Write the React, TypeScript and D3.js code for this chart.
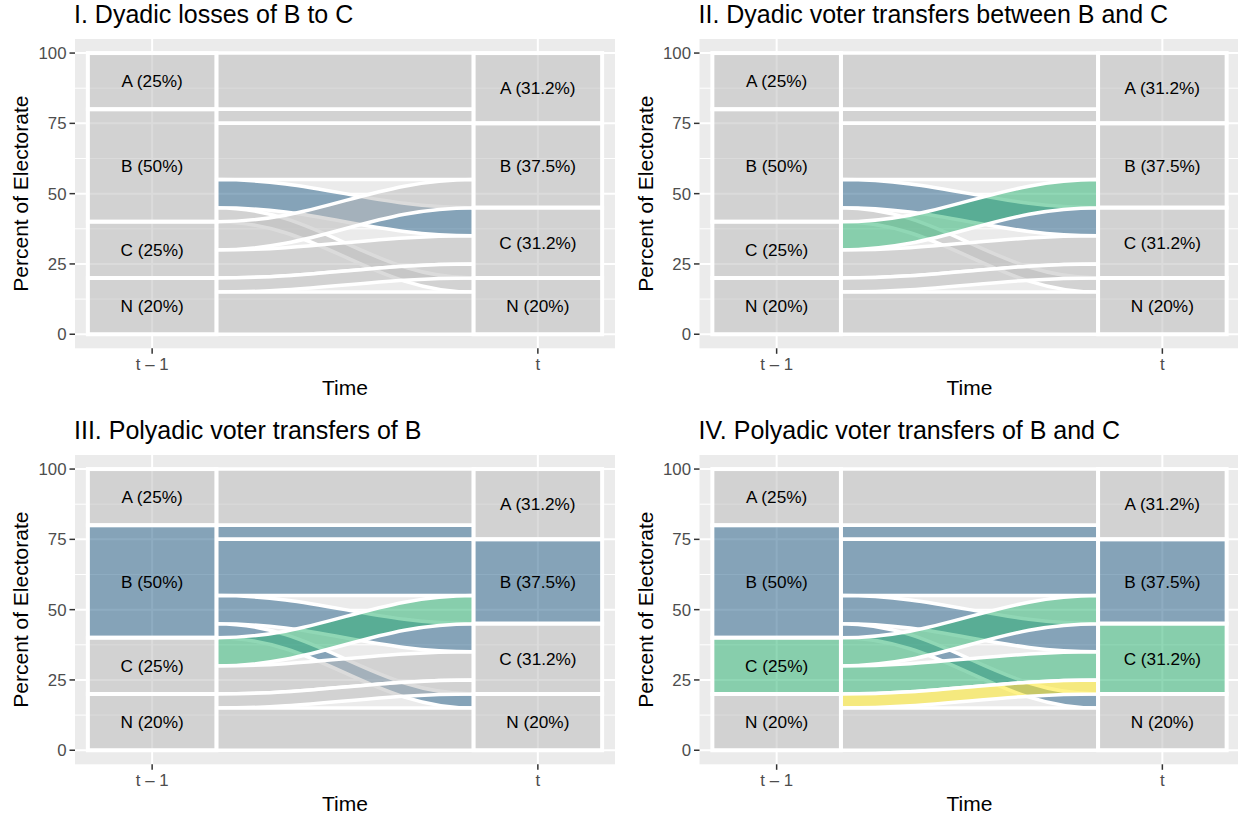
import React from "react";
import * as d3 from "d3";

// Party categories, stacked top to bottom
const CATEGORIES = ["A", "B", "C", "N"];
// Percent of electorate at t - 1 and at t
const SHARE_BEFORE = [20, 40, 20, 20];
const SHARE_AFTER = [25, 30, 25, 20];
// Stratum labels (vote share among voters; N as share of electorate)
const LABELS_BEFORE = ["A (25%)", "B (50%)", "C (25%)", "N (20%)"];
const LABELS_AFTER = ["A (31.2%)", "B (37.5%)", "C (31.2%)", "N (20%)"];
// Voter transfers between the two elections
const FLOW_FROM = ["A", "B", "B", "B", "B", "C", "C", "N", "N"];
const FLOW_TO = ["A", "A", "B", "C", "N", "B", "C", "C", "N"];
const FLOW_VALUE = [20, 5, 20, 10, 5, 10, 10, 5, 15];

const TIME_TICKS = ["t \u2013 1", "t"];
const Y_TICKS = [0, 25, 50, 75, 100];
const Y_MINOR = [12.5, 37.5, 62.5, 87.5];

const PANEL_TITLES = [
  "I. Dyadic losses of B to C",
  "II. Dyadic voter transfers between B and C",
  "III. Polyadic voter transfers of B",
  "IV. Polyadic voter transfers of B and C",
];
// Highlighted flows per panel ("from>to" -> colour key)
const PANEL_FLOW_HIGHLIGHT: Record<string, string>[] = [
  { "B>C": "B" },
  { "B>C": "B", "C>B": "C" },
  { "B>A": "B", "B>B": "B", "B>C": "B", "B>N": "B", "C>B": "C" },
  { "B>A": "B", "B>B": "B", "B>C": "B", "B>N": "B", "C>B": "C", "C>C": "C", "N>C": "N" },
];
const PANEL_STRATUM_HIGHLIGHT = [[], [], ["B"], ["B", "C"]];

const PALETTE: Record<string, string> = {
  B: "#31688E",
  C: "#35B779",
  N: "#FDE725",
  none: "#BEBEBE",
};
const FILL_ALPHA = 0.55;

const FONT = "'Liberation Sans', Arial, Helvetica, sans-serif";

// Geometry of one panel in its own cell
const PANEL_LEFT = 75;
const PANEL_RIGHT = 615;
const PANEL_TOP = 39;
const PANEL_BOTTOM = 348.3;
const COL_OFFSETS = [0, 624.5];
const ROW_OFFSETS = [0, 416];
const STRATUM_WIDTH = 1 / 3;
// Horizontal position of the ribbon control points (fraction of span)
const CURVE_KNOT = 0.4;

type Lode = { top: number; bottom: number };

function computeLayout() {
  const idx = (c: string) => CATEGORIES.indexOf(c);
  const flows = FLOW_VALUE.map((v, i) => ({
    from: FLOW_FROM[i],
    to: FLOW_TO[i],
    value: v,
    left: { top: 0, bottom: 0 } as Lode,
    right: { top: 0, bottom: 0 } as Lode,
  }));
  const strataBefore: Lode[] = [];
  const strataAfter: Lode[] = [];
  let cursor = d3.sum(SHARE_BEFORE);
  CATEGORIES.forEach((c, i) => {
    strataBefore.push({ top: cursor, bottom: cursor - SHARE_BEFORE[i] });
    let inner = cursor;
    flows
      .filter((f) => f.from === c)
      .sort((a, b) => idx(a.to) - idx(b.to))
      .forEach((f) => {
        f.left = { top: inner, bottom: inner - f.value };
        inner -= f.value;
      });
    cursor -= SHARE_BEFORE[i];
  });
  cursor = d3.sum(SHARE_AFTER);
  CATEGORIES.forEach((c, i) => {
    strataAfter.push({ top: cursor, bottom: cursor - SHARE_AFTER[i] });
    let inner = cursor;
    flows
      .filter((f) => f.to === c)
      .sort((a, b) => idx(a.from) - idx(b.from))
      .forEach((f) => {
        f.right = { top: inner, bottom: inner - f.value };
        inner -= f.value;
      });
    cursor -= SHARE_AFTER[i];
  });
  return { flows, strataBefore, strataAfter };
}

const LAYOUT = computeLayout();

function ribbon(x0: number, x1: number, t0: number, b0: number, t1: number, b1: number) {
  const w = x1 - x0;
  const xa = x0 + CURVE_KNOT * w;
  const xb = x1 - CURVE_KNOT * w;
  const p = d3.path();
  p.moveTo(x0, t0);
  p.bezierCurveTo(xa, t0, xb, t1, x1, t1);
  p.lineTo(x1, b1);
  p.bezierCurveTo(xb, b1, xa, b0, x0, b0);
  p.closePath();
  return p.toString();
}

function Panel({ index }: { index: number }) {
  const dx = COL_OFFSETS[index % 2];
  const dy = ROW_OFFSETS[Math.floor(index / 2)];
  const x = d3.scaleLinear().domain([0.8, 2.2]).range([PANEL_LEFT, PANEL_RIGHT]);
  const y = d3.scaleLinear().domain([-5, 105]).range([PANEL_BOTTOM, PANEL_TOP]);
  const highlight = PANEL_FLOW_HIGHLIGHT[index];
  const strataHi = PANEL_STRATUM_HIGHLIGHT[index];
  const half = STRATUM_WIDTH / 2;
  const xFlow0 = x(1 + half);
  const xFlow1 = x(2 - half);
  const midY = (PANEL_TOP + PANEL_BOTTOM) / 2;
  const midX = (PANEL_LEFT + PANEL_RIGHT) / 2;

  return (
    <g transform={`translate(${dx},${dy})`}>
      <text x={PANEL_LEFT - 1} y={23} fontSize={25} fontFamily={FONT} fill="#000">
        {PANEL_TITLES[index]}
      </text>
      <rect
        x={PANEL_LEFT}
        y={PANEL_TOP}
        width={PANEL_RIGHT - PANEL_LEFT}
        height={PANEL_BOTTOM - PANEL_TOP}
        fill="#EBEBEB"
      />
      {Y_MINOR.map((v) => (
        <line key={"m" + v} x1={PANEL_LEFT} x2={PANEL_RIGHT} y1={y(v)} y2={y(v)} stroke="#fff" strokeWidth={1} />
      ))}
      {Y_TICKS.map((v) => (
        <line key={"g" + v} x1={PANEL_LEFT} x2={PANEL_RIGHT} y1={y(v)} y2={y(v)} stroke="#fff" strokeWidth={2} />
      ))}
      {[1, 2].map((v) => (
        <line key={"gx" + v} x1={x(v)} x2={x(v)} y1={PANEL_TOP} y2={PANEL_BOTTOM} stroke="#fff" strokeWidth={2} />
      ))}
      {LAYOUT.flows.map((f, i) => {
        const key = highlight[`${f.from}>${f.to}`] || "none";
        return (
          <path
            key={"f" + i}
            d={ribbon(xFlow0, xFlow1, y(f.left.top), y(f.left.bottom), y(f.right.top), y(f.right.bottom))}
            fill={PALETTE[key]}
            fillOpacity={FILL_ALPHA}
            stroke="#fff"
            strokeWidth={3.5}
          />
        );
      })}
      {[LAYOUT.strataBefore, LAYOUT.strataAfter].map((strata, t) =>
        strata.map((s, i) => {
          const cat = CATEGORIES[i];
          const key = strataHi.includes(cat) ? cat : "none";
          return (
            <rect
              key={`s${t}-${i}`}
              x={x(t + 1 - half)}
              y={y(s.top)}
              width={x(t + 1 + half) - x(t + 1 - half)}
              height={y(s.bottom) - y(s.top)}
              fill={PALETTE[key]}
              fillOpacity={FILL_ALPHA}
              stroke="#fff"
              strokeWidth={4}
            />
          );
        })
      )}
      {[LAYOUT.strataBefore, LAYOUT.strataAfter].map((strata, t) =>
        strata.map((s, i) => (
          <text
            key={`l${t}-${i}`}
            x={x(t + 1)}
            y={y((s.top + s.bottom) / 2)}
            dy="0.36em"
            textAnchor="middle"
            fontSize={17.2}
            fontFamily={FONT}
            fill="#000"
          >
            {t === 0 ? LABELS_BEFORE[i] : LABELS_AFTER[i]}
          </text>
        ))
      )}
      {Y_TICKS.map((v) => (
        <g key={"yt" + v}>
          <line x1={PANEL_LEFT - 5.5} x2={PANEL_LEFT} y1={y(v)} y2={y(v)} stroke="#333" strokeWidth={1.5} />
          <text
            x={PANEL_LEFT - 8.5}
            y={y(v)}
            dy="0.36em"
            textAnchor="end"
            fontSize={16.8}
            fontFamily={FONT}
            fill="#4D4D4D"
          >
            {v}
          </text>
        </g>
      ))}
      {TIME_TICKS.map((lab, i) => (
        <g key={"xt" + i}>
          <line x1={x(i + 1)} x2={x(i + 1)} y1={PANEL_BOTTOM} y2={PANEL_BOTTOM + 5.5} stroke="#333" strokeWidth={1.5} />
          <text x={x(i + 1)} y={370} textAnchor="middle" fontSize={16.8} fontFamily={FONT} fill="#4D4D4D">
            {lab}
          </text>
        </g>
      ))}
      <text x={midX} y={395} textAnchor="middle" fontSize={21} fontFamily={FONT} fill="#000">
        Time
      </text>
      <text
        transform={`translate(28,${midY}) rotate(-90)`}
        textAnchor="middle"
        fontSize={21}
        fontFamily={FONT}
        fill="#000"
      >
        Percent of Electorate
      </text>
    </g>
  );
}

export default function App() {
  return (
    <svg
      width={1238}
      height={816}
      style={{ position: "absolute", left: 0, top: 0, background: "#fff" }}
    >
      <rect width={1238} height={816} fill="#fff" />
      {[0, 1, 2, 3].map((i) => (
        <Panel key={i} index={i} />
      ))}
    </svg>
  );
}
